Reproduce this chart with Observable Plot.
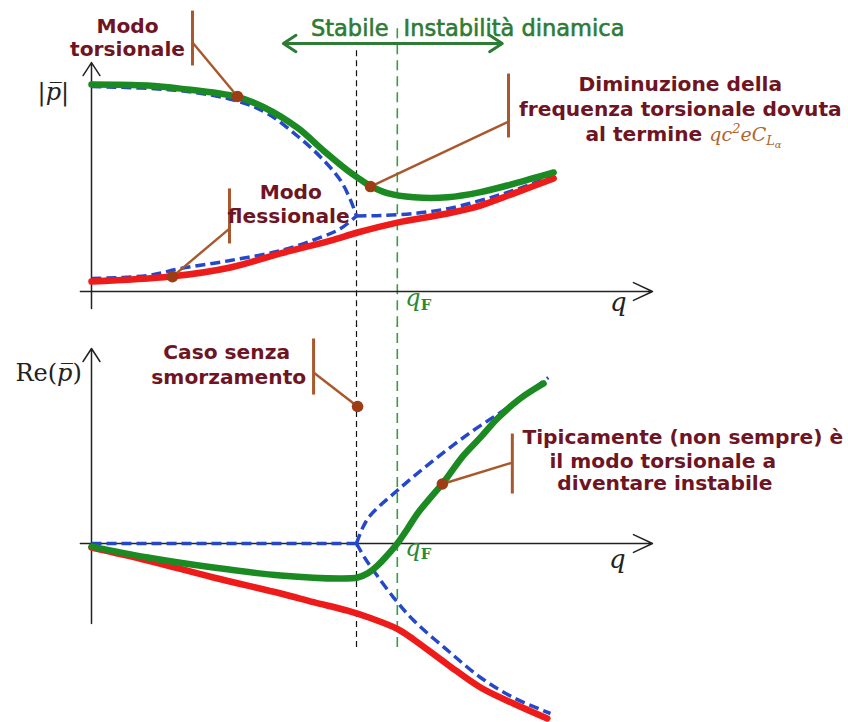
<!DOCTYPE html>
<html><head><meta charset="utf-8">
<script src="https://cdn.jsdelivr.net/npm/d3@7"></script>
<script src="https://cdn.jsdelivr.net/npm/@observablehq/plot@0.6"></script>
<style>
body{margin:0;background:#fff}
#chart{width:848px;height:722px;position:relative}
#chart svg{display:block;overflow:visible}
</style>
</head><body><div id="chart"></div>
<script>
// ---------- landmarks on the q axis ----------
const qDiv = 5.0;    // coalescence (undamped) – black dashed
const qF = 5.77;     // flutter speed – green dashed

// ---------- TOP PANEL: |p| vs q ----------
const qTopGreen = [0, 1.06, 1.68, 2.75, 3.25, 3.89, 4.38, 4.83, 5.02, 5.26, 5.58, 6.08, 6.72, 7.34, 7.96, 8.72];
const pTopGreen = [1.0, 0.995, 0.98, 0.94, 0.89, 0.79, 0.68, 0.585, 0.55, 0.51, 0.475, 0.455, 0.455, 0.48, 0.52, 0.575];

const qTopRed = [0, 1.49, 2.62, 3.57, 4.51, 5.02, 5.77, 6.72, 7.34, 7.96, 8.72];
const pTopRed = [0.048, 0.072, 0.116, 0.184, 0.246, 0.285, 0.333, 0.377, 0.415, 0.473, 0.546];

const qTopBlueUp = [0, 1.68, 2.75, 3.32, 3.89, 4.32, 4.70, 4.89, 5.0];
const pTopBlueUp = [0.99, 0.97, 0.92, 0.86, 0.75, 0.65, 0.536, 0.44, 0.365];
const qTopBlueLow = [0, 1.06, 1.68, 2.62, 3.57, 4.32, 4.70, 5.0];
const pTopBlueLow = [0.063, 0.077, 0.111, 0.15, 0.198, 0.261, 0.304, 0.365];
const qTopBlueMerged = [5.0, 5.45, 6.08, 6.72, 7.34, 7.96, 8.72];
const pTopBlueMerged = [0.365, 0.367, 0.377, 0.40, 0.44, 0.488, 0.56];

// ---------- BOTTOM PANEL: Re(p) vs q ----------
const qBotGreen = [0, 1.06, 2.30, 3.57, 4.70, 5.02, 5.21, 5.40, 5.58, 5.77, 5.96, 6.15, 6.40, 6.64, 7.02, 7.34, 7.66, 8.09, 8.53];
const rBotGreen = [-0.018, -0.082, -0.141, -0.188, -0.206, -0.2, -0.176, -0.129, -0.07, 0, 0.085, 0.176, 0.271, 0.359, 0.518, 0.624, 0.735, 0.853, 0.941];

const qBotRed = [0, 1.06, 2.30, 3.57, 4.19, 4.83, 5.26, 5.77, 6.08, 6.72, 7.34, 7.96, 8.60];
const rBotRed = [-0.024, -0.1, -0.2, -0.294, -0.345, -0.395, -0.438, -0.502, -0.565, -0.712, -0.847, -0.941, -1.029];

const qBotBlueFlat = [0, 5.0];
const rBotBlueFlat = [0, 0];
const qBotBlueUp = [5.0, 5.11, 5.26, 5.77, 6.40, 7.15, 7.91, 8.62];
const rBotBlueUp = [0, 0.088, 0.165, 0.312, 0.476, 0.653, 0.812, 0.976];
const qBotBlueLow = [5.0, 5.15, 5.32, 5.70, 6.08, 6.72, 7.34, 7.96, 8.66];
const rBotBlueLow = [0, -0.082, -0.159, -0.318, -0.453, -0.629, -0.788, -0.906, -1.0];

// ---------- annotations ----------
const headerText = ["Stabile", "Instabilità dinamica"];
const topNoteText = ["Modo", "torsionale", "Diminuzione della", "frequenza torsionale dovuta", "Modo", "flessionale"];
const topNoteQ = [0.68, 0.68, 11.11, 11.11, 3.76, 3.72];
const topNoteV = [1.251, 1.140, 0.971, 0.850, 0.449, 0.333];
const mathLine = "al termine |qc2eCLα";
const caseText = ["Caso senza", "smorzamento"];
const caseQ = [2.55, 2.59];
const caseR = [1.088, 0.941];
const typText = ["Tipicamente (non sempre) è", "il modo torsionale a", "diventare instabile"];
const typQ = [8.13, 8.64, 8.79];
const typR = [0.588, 0.447, 0.312];

// callouts: bar (x, top, bottom), join point on bar, dot on the curve
const topCallBarQ = [1.906, 7.868, 2.604];
const topCallBarTop = [1.357, 1.053, 0.498];
const topCallBarBot = [1.092, 0.744, 0.232];
const topCallJoin = [1.203, 0.821, 0.304];
const topCallDotQ = [2.755, 5.264, 1.528];
const topCallDotV = [0.942, 0.507, 0.072];

const botCallBarQ = [4.19, 7.94];
const botCallBarTop = [1.206, 0.647];
const botCallBarBot = [0.876, 0.294];
const botCallJoin = [1.006, 0.476];
const botCallDotQ = [5.02, 6.62];
const botCallDotR = [0.806, 0.35];

// ---------- styles ----------
const cGreen = "#1c8a22", cRed = "#ee1b1b", cBlue = "#2448c8";
const cMaroon = "#6e1423", cBrown = "#a8582c", cDot = "#9c3d16", cHdr = "#2e7b36", cAxis = "#222";
const sans = "DejaVu Sans", serif = "DejaVu Serif";

const pts = (qs, ys) => qs.map((q, i) => ({q, y: ys[i]}));
const curveLine = (d, stroke, w, dash) => Plot.line(d, {x: "q", y: "y", stroke, strokeWidth: w, curve: "catmull-rom",
  strokeLinecap: dash ? "butt" : "round", strokeDasharray: dash});
const callouts = (bq, bt, bb, bj, dq, dy) => {
  const d = bq.map((q, i) => ({bq: q, bt: bt[i], bb: bb[i], bj: bj[i], dq: dq[i], dy: dy[i]}));
  return [
    Plot.link(d, {x1: "bq", x2: "bq", y1: "bt", y2: "bb", stroke: cBrown, strokeWidth: 3}),
    Plot.link(d, {x1: "bq", y1: "bj", x2: "dq", y2: "dy", stroke: cBrown, strokeWidth: 2.4}),
    Plot.dot(d, {x: "dq", y: "dy", r: 5.8, fill: cDot})
  ];
};
const noteFont = {fontFamily: sans, fontWeight: "bold", fontSize: 20.2, fill: cMaroon, lineAnchor: "bottom"};
const hdrFont = {fontFamily: sans, fontSize: 22.5, fill: cHdr, stroke: cHdr, strokeWidth: 0.6, lineAnchor: "bottom"};

// ================= TOP PLOT =================
const topPlot = Plot.plot({
  width: 848, height: 325, margin: 0,
  style: {background: "transparent", overflow: "visible"},
  x: {domain: [0, 10], range: [91, 621], axis: null},
  y: {domain: [0, 1], range: [291, 84], axis: null},
  marks: [
    Plot.ruleX([qDiv], {y1: -0.17, y2: 1.164, stroke: "#111", strokeWidth: 1.2, strokeDasharray: "6,4"}),
    Plot.ruleX([qF], {y1: -0.17, y2: 1.275, stroke: "#3a9a44", strokeWidth: 1.6, strokeDasharray: "10,6"}),
    Plot.arrow([0], {x1: -0.21, y1: 0, x2: 10.585, y2: 0, stroke: cAxis, strokeWidth: 1.5, headLength: 21, headAngle: 50}),
    Plot.arrow([0], {x1: 0, y1: -0.082, x2: 0, y2: 1.106, stroke: cAxis, strokeWidth: 1.5, headLength: 15.5, headAngle: 66}),
    Plot.arrow([0], {x1: 5.69, y1: 1.198, x2: 3.62, y2: 1.198, stroke: cHdr, strokeWidth: 3, headLength: 7.5, headAngle: 66}),
    Plot.arrow([0], {x1: 5.69, y1: 1.198, x2: 7.75, y2: 1.198, stroke: cHdr, strokeWidth: 3, headLength: 7.5, headAngle: 66}),
    curveLine(pts(qTopBlueUp, pTopBlueUp), cBlue, 3.5, "10,5"),
    curveLine(pts(qTopBlueLow, pTopBlueLow), cBlue, 3.5, "10,5"),
    curveLine(pts(qTopBlueMerged, pTopBlueMerged), cBlue, 3.5, "10,5"),
    curveLine(pts(qTopRed, pTopRed), cRed, 6.5),
    curveLine(pts(qTopGreen, pTopGreen), cGreen, 6.5),
    ...callouts(topCallBarQ, topCallBarTop, topCallBarBot, topCallJoin, topCallDotQ, topCallDotV),
    Plot.text([headerText[0]], {x: 5.604, y: 1.232, text: d => d, textAnchor: "end", ...hdrFont}),
    Plot.text([headerText[1]], {x: 5.887, y: 1.232, text: d => d, textAnchor: "start", ...hdrFont}),
    Plot.text(topNoteText, {x: (d, i) => topNoteQ[i], y: (d, i) => topNoteV[i], text: d => d, ...noteFont}),
    Plot.text([mathLine], {x: 11.17, y: 0.729, text: d => d, ...noteFont}),
    Plot.text(["|p|"], {x: -0.72, y: 0.923, text: d => d, fontFamily: serif, fontSize: 24, fill: cAxis, lineAnchor: "bottom"}),
    Plot.text(["q"], {x: 9.94, y: -0.092, text: d => d, fontFamily: serif, fontStyle: "italic", fontSize: 26, fill: cAxis, lineAnchor: "bottom"}),
    Plot.text(["qF"], {x: 5.92, y: -0.072, text: d => d, textAnchor: "start", fontFamily: serif, fontSize: 24, fill: "#2a8a34", lineAnchor: "bottom"})
  ]
});

// ================= BOTTOM PLOT =================
const bottomPlot = Plot.plot({
  width: 848, height: 397, margin: 0,
  style: {background: "transparent", overflow: "visible"},
  x: {domain: [0, 10], range: [91, 621], axis: null},
  y: {domain: [-1, 1], range: [388, 48], axis: null},
  marks: [
    Plot.ruleX([qDiv], {y1: -0.612, y2: 1.282, stroke: "#111", strokeWidth: 1.2, strokeDasharray: "6,4"}),
    Plot.ruleX([qF], {y1: -0.612, y2: 1.282, stroke: "#3a9a44", strokeWidth: 1.6, strokeDasharray: "10,6"}),
    Plot.arrow([0], {x1: -0.21, y1: 0, x2: 10.585, y2: 0, stroke: cAxis, strokeWidth: 1.5, headLength: 21, headAngle: 50}),
    Plot.arrow([0], {x1: 0, y1: -0.47, x2: 0, y2: 1.147, stroke: cAxis, strokeWidth: 1.5, headLength: 15.5, headAngle: 66}),
    curveLine(pts(qBotBlueFlat, rBotBlueFlat), cBlue, 3.5, "10,5"),
    curveLine(pts(qBotBlueUp, rBotBlueUp), cBlue, 3.5, "10,5"),
    curveLine(pts(qBotBlueLow, rBotBlueLow), cBlue, 3.5, "10,5"),
    curveLine(pts(qBotRed, rBotRed), cRed, 6.5),
    curveLine(pts(qBotGreen, rBotGreen), cGreen, 6.5),
    ...callouts(botCallBarQ, botCallBarTop, botCallBarBot, botCallJoin, botCallDotQ, botCallDotR),
    Plot.text(caseText, {x: (d, i) => caseQ[i], y: (d, i) => caseR[i], text: d => d, textAnchor: "middle", ...noteFont}),
    Plot.text(typText, {x: (d, i) => typQ[i], y: (d, i) => typR[i], text: d => d, textAnchor: "start", ...noteFont}),
    Plot.text(["Re(p)"], {x: -0.81, y: 0.953, text: d => d, fontFamily: serif, fontSize: 24, fill: cAxis, lineAnchor: "bottom"}),
    Plot.text(["q"], {x: 9.92, y: -0.147, text: d => d, fontFamily: serif, fontStyle: "italic", fontSize: 26, fill: cAxis, lineAnchor: "bottom"}),
    Plot.text(["qF"], {x: 5.92, y: -0.071, text: d => d, textAnchor: "start", fontFamily: serif, fontSize: 24, fill: "#2a8a34", lineAnchor: "bottom"})
  ]
});

// ---------- rich text (italics, sub/superscripts, overbars) ----------
function enrich(svg) {
  d3.select(svg).selectAll("text").each(function () {
    const s = this.textContent, t = d3.select(this);
    if (s === "qF") {
      t.text("");
      t.append("tspan").attr("font-style", "italic").text("q");
      t.append("tspan").attr("font-size", "0.62em").attr("font-weight", "bold").attr("dy", "0.22em").text("F");
    } else if (s === "|p|") {
      t.text("");
      t.append("tspan").text("|");
      t.append("tspan").attr("font-style", "italic").text("p\u0305");
      t.append("tspan").text("|");
    } else if (s === "Re(p)") {
      t.text("");
      t.append("tspan").text("Re(");
      t.append("tspan").attr("font-style", "italic").text("p\u0305");
      t.append("tspan").text(")");
    } else if (s === mathLine) {
      t.text("");
      t.append("tspan").text("al termine ");
      const m = {"font-family": serif, "font-style": "italic", "font-weight": "normal", "fill": "#b0642e"};
      const sp = (txt, size, dy) => {
        const e = t.append("tspan").attr("font-size", size).attr("dy", dy).text(txt);
        for (const k in m) e.attr(k, m[k]);
      };
      sp("qc", 19, 0); sp("2", 13, -8); sp("eC", 19, 8); sp("L", 13, 4); sp("α", 10, 3);
    }
  });
  return svg;
}

const chart = document.getElementById("chart");
chart.append(enrich(topPlot), enrich(bottomPlot));
</script>
</body></html>
